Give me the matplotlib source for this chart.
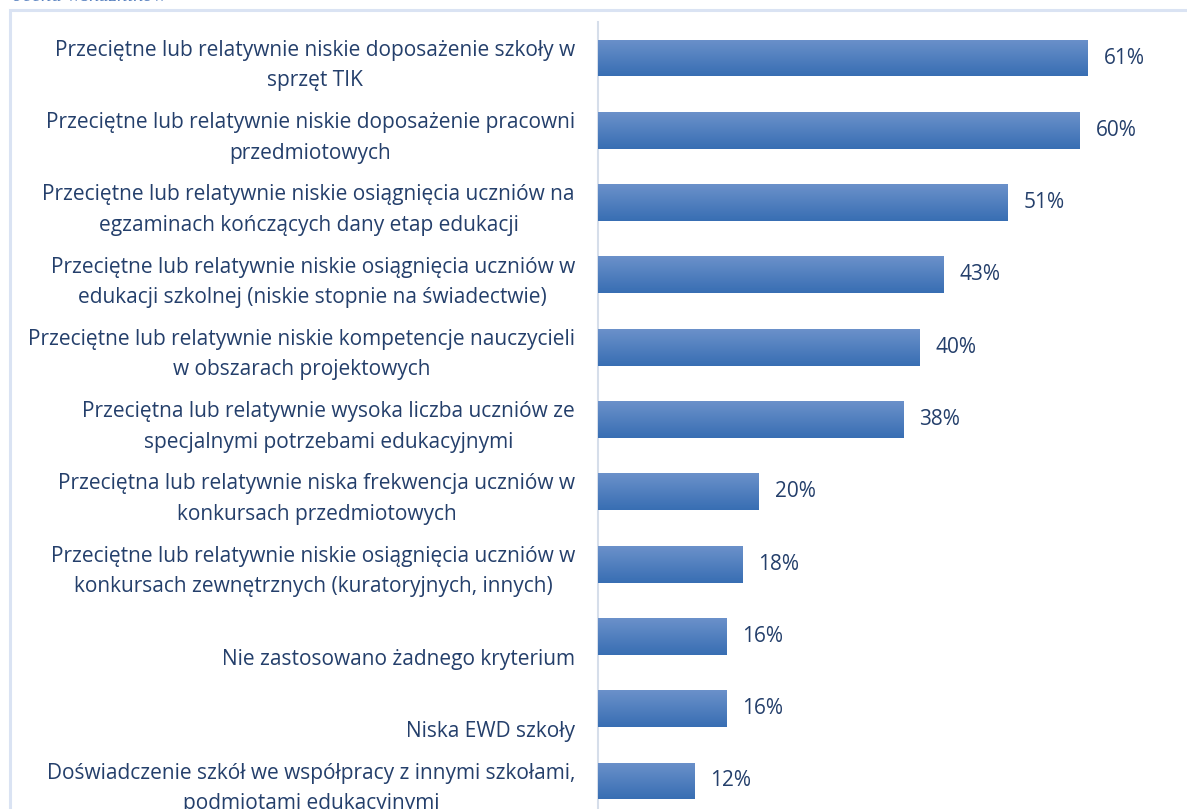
import matplotlib.pyplot as plt
import numpy as np
from matplotlib.patches import Rectangle
from matplotlib.transforms import blended_transform_factory, offset_copy

labels = [
    "Przeciętne lub relatywnie niskie doposażenie szkoły w\nsprzęt TIK",
    "Przeciętne lub relatywnie niskie doposażenie pracowni\nprzedmiotowych",
    "Przeciętne lub relatywnie niskie osiągnięcia uczniów na\negzaminach kończących dany etap edukacji",
    "Przeciętne lub relatywnie niskie osiągnięcia uczniów w\nedukacji szkolnej (niskie stopnie na świadectwie)",
    "Przeciętne lub relatywnie niskie kompetencje nauczycieli\nw obszarach projektowych",
    "Przeciętna lub relatywnie wysoka liczba uczniów ze\nspecjalnymi potrzebami edukacyjnymi",
    "Przeciętna lub relatywnie niska frekwencja uczniów w\nkonkursach przedmiotowych",
    "Przeciętne lub relatywnie niskie osiągnięcia uczniów w\nkonkursach zewnętrznych (kuratoryjnych, innych)",
    "\nNie zastosowano żadnego kryterium",
    "\nNiska EWD szkoły",
    "Doświadczenie szkół we współpracy z innymi szkołami,\npodmiotami edukacyjnymi",
]
values = [61, 60, 51, 43, 40, 38, 20, 18, 16, 16, 12]

W, H = 1187, 809
fig = plt.figure(figsize=(W / 100, H / 100), dpi=100)
fig.patch.set_facecolor("white")

text_col = "#243F6B"
frame_col = "#DAE3F3"

# outer frame, only the top-left corner is visible
fig.add_artist(Rectangle((10 / W, -0.1), 1.2, 1 - 10 / H + 0.1,
                         transform=fig.transFigure, fill=False,
                         edgecolor=frame_col, linewidth=2.2))
fig.text(12 / W, 1 - 1 / H, "ocena wskaźników", fontsize=15, style="italic",
         family="Liberation Serif", color="#5B83C0", va="baseline", ha="left")

ax = fig.add_axes([598 / W, 0, 1 - 598 / W, (H - 22) / H])
y = np.arange(len(values))
bars = ax.barh(y, values, height=0.51, color="#4F7EC0", zorder=2)

# vertical gradient on each bar
grad = np.linspace(0, 1, 64).reshape(-1, 1)
top = np.array([0x6B, 0x91, 0xCA]) / 255
bot = np.array([0x38, 0x6E, 0xB3]) / 255
img = top + (bot - top) * grad[..., None]
for b in bars:
    x0, y0 = b.get_x(), b.get_y()
    im = ax.imshow(img, extent=(x0, x0 + b.get_width(), y0 + b.get_height(), y0),
                   aspect="auto", zorder=3, interpolation="bilinear")
    im.set_clip_path(b)

ax.set_xlim(0, (W - 598) / 8.03)
ax.set_ylim(10 + 28 / 72.3, -36 / 72.3)
for s in ["top", "right", "bottom"]:
    ax.spines[s].set_visible(False)
ax.spines["left"].set_color("#D6DEEA")
ax.spines["left"].set_linewidth(1.5)
ax.set_xticks([])
ax.set_yticks([])

for yi, v in zip(y, values):
    ax.annotate(f"{v}%", (v, yi), xytext=(16, 0), textcoords="offset pixels",
                va="center", ha="left", fontsize=15, color=text_col,
                family="Open Sans")

trans = offset_copy(blended_transform_factory(fig.transFigure, ax.transData),
                    fig=fig, x=0, y=-7.5, units="dots")
for yi, lab in zip(y, labels):
    fig.text(575 / W, yi, lab, transform=trans, ha="right", va="center",
             multialignment="center", fontsize=15, color=text_col,
             family="Open Sans", linespacing=1.6)

fig.savefig("out.png", dpi=100, facecolor="white")
